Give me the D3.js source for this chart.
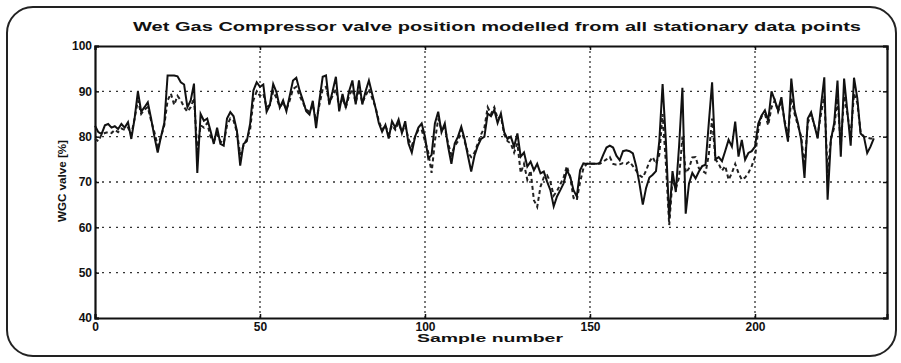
<!DOCTYPE html>
<html>
<head>
<meta charset="utf-8">
<script src="https://cdn.jsdelivr.net/npm/d3@7"></script>
<style>
  body { margin: 0; background: #fff; }
  text { font-family: "Liberation Sans", Arial, sans-serif; font-weight: bold; fill: #111; }
</style>
</head>
<body>
<div id="chart"></div>
<script>
// chart texts
var titleText = "Wet Gas Compressor valve position modelled from all stationary data points";
var xLabel = "Sample number";
var yLabel = "WGC valve [%]";

// tick values
var xTicks = [0, 50, 100, 150, 200];
var yTicks = [40, 50, 60, 70, 80, 90, 100];

// measured valve position (solid line), one value per sample
var measured = [
  82.4, 81, 80.6, 82.5, 82.8, 82, 82.3, 81.7, 82.8, 82,
  83.2, 79.5, 84, 90, 85.5, 86.5, 87.6, 84, 80, 76.5,
  80, 83, 93.5, 93.5, 93.5, 93.3, 92, 91.5, 86.5, 88,
  91.7, 72, 85, 83.5, 84, 81.3, 78.4, 82, 78.4, 78,
  84, 85.4, 84.5, 81.3, 73.6, 78.4, 79, 82.8, 90.2, 92,
  91, 91.5, 85.5, 87, 91.6, 89.8, 86.4, 88, 85.6, 89,
  92.4, 93, 90.2, 88, 85.6, 84.9, 87.9, 81.9, 88, 93.2,
  93.5, 87.1, 90, 93.2, 85.6, 89.4, 86.4, 90, 92.4, 87.1,
  92.4, 87.1, 90, 92.4, 89.4, 86.4, 83, 81.1, 82.6, 79.6,
  83.4, 82, 83.8, 80.8, 83.4, 78.5, 76.5, 80, 82, 82.9,
  80, 75.2, 76, 82.9, 85.5, 81, 82.9, 77.8, 74, 78.5,
  80, 82.2, 79.5, 75.8, 72.3, 75.8, 78, 79.5, 80, 85.1,
  84.5, 85.9, 83, 85.1, 81, 79.5, 80, 77.8, 80.7, 75.6,
  76.5, 73.4, 74.5, 72.6, 74, 71.9, 72.3, 70.1, 68.2, 64.6,
  66.8, 68.2, 69.7, 72.6, 71.2, 68.2, 66.8, 72.6, 74.1, 74,
  74, 74, 74, 74.2, 76, 77.6, 78, 77.6, 75.8, 74.8,
  76.8, 77, 76.8, 76.3, 73.5, 69.6, 65, 68.7, 71, 71.6,
  72.4, 79, 91.6, 79, 62, 72.4, 67.8, 78, 90.8, 63,
  69.7, 72, 70.8, 72.3, 73.5, 73.8, 83, 92, 75, 75.5,
  74.6, 76.9, 79.3, 77.8, 83.3, 75.6, 79.3, 74.9, 76.4, 76.8,
  77.8, 82.9, 84.7, 85.8, 83.5, 90, 88, 85.8, 88.7, 83,
  78.9, 92.8, 85.8, 83, 79.3, 70.9, 84, 85.4, 82.5, 79.6,
  86.8, 93.1, 66.1, 79.3, 83, 92.4, 75.6, 92.8, 85.5, 78,
  93, 88.5, 80.7, 80, 76.4, 77.8, 79.6
];

// modelled valve position (dashed line)
var modelled = [
  79.5, 79, 80.5, 80.8, 81, 80.8, 81.5, 81, 81.8, 81.5,
  82, 80.5, 84, 88, 85, 86, 86.5, 83.5, 81, 78,
  80, 82.5, 88, 89.5, 87, 89, 88, 86.5, 85.5, 86.5,
  88.5, 77, 82.5, 82, 83, 80, 79, 80.5, 79, 78.5,
  82.5, 84, 83.5, 81, 76, 78, 79.5, 81.5, 88, 90,
  89, 89.5, 86.5, 87, 90, 88.5, 86.5, 87.5, 86, 88,
  90.5, 91, 89, 87.5, 86, 85.5, 87, 83.5, 87, 90.5,
  91, 87.5, 89, 90.5, 86.5, 88.5, 86.5, 89, 90.5, 87.5,
  90.5, 87.5, 89, 90.5, 88.5, 86.5, 83.5, 81.5, 82.5, 80.5,
  82.5, 81.5, 83, 81, 82.5, 79.5, 78, 80, 81.5, 81.5,
  79, 76.5, 72, 79, 84, 81.5, 82, 78.5, 76, 78,
  79, 81.5, 79, 76.5, 75.5, 76.5, 78.5, 80.5, 82, 86.5,
  85, 86.5, 84, 84.5, 80.5, 79, 78.5, 76.5, 78.5, 72,
  74, 70.5, 72.5, 66, 64.5, 69, 71, 71.5, 70, 67,
  68, 69.5, 71, 73.5, 71, 66.5, 66, 70, 73, 74,
  74, 74, 74, 74, 74.5, 75, 75.5, 74, 73.8, 73.9,
  74.2, 74, 74.5, 73.5, 72.5, 71.5, 71, 72.5, 74.5, 75.5,
  74, 76, 85, 74, 60.5, 70.5, 68.5, 71, 80, 72,
  73, 75.4, 75.5, 73, 72.5, 72, 76, 84, 75, 74,
  72.5, 73.5, 70.5, 72, 74, 72, 70.5, 71, 72, 73.5,
  75.5, 81.5, 84.5, 85, 82.5, 86.5, 88, 85.5, 87.5, 83.5,
  80, 88.5, 85, 82.5, 80, 73.5, 83, 85, 82.5, 80.5,
  85, 89, 72, 79.5, 82, 88.5, 78, 89, 85, 80,
  89.5, 87.5, 81, 80, 79.8, 79.6, 79.6
];

var W = 901, H = 363;
var margin = {top: 46, right: 14, bottom: 45, left: 95},
    width = W - margin.left - margin.right,
    height = H - margin.top - margin.bottom;

var svg = d3.select("#chart")
  .append("svg")
    .attr("width", W)
    .attr("height", H);

// rounded frame round the whole figure
svg.append("rect")
  .attr("x", 7).attr("y", 7)
  .attr("width", W - 12).attr("height", H - 14)
  .attr("rx", 26).attr("ry", 26)
  .style("fill", "none")
  .style("stroke", "#222")
  .style("stroke-width", 2);

var g = svg.append("g")
  .attr("transform", "translate(" + margin.left + "," + margin.top + ")");

var x = d3.scaleLinear().domain([0, 240]).range([0, width]);
var y = d3.scaleLinear().domain([40, 100]).range([height, 0]);

// dotted grid
g.append("g")
  .selectAll("line")
  .data(yTicks.filter(function (d) { return d > 40 && d < 100; }))
  .enter().append("line")
    .attr("x1", 0).attr("x2", width)
    .attr("y1", function (d) { return y(d); })
    .attr("y2", function (d) { return y(d); })
    .style("stroke", "#333").style("stroke-width", 1.3)
    .style("stroke-dasharray", "2,5");

g.append("g")
  .selectAll("line")
  .data(xTicks.filter(function (d) { return d > 0; }))
  .enter().append("line")
    .attr("y1", 0).attr("y2", height)
    .attr("x1", function (d) { return x(d); })
    .attr("x2", function (d) { return x(d); })
    .style("stroke", "#333").style("stroke-width", 1.3)
    .style("stroke-dasharray", "2,3");

// axes
var xAxis = g.append("g")
  .attr("transform", "translate(0," + height + ")")
  .call(d3.axisBottom(x).tickValues(xTicks).tickSize(-4).tickPadding(4));
var yAxis = g.append("g")
  .call(d3.axisLeft(y).tickValues(yTicks).tickSize(-4).tickPadding(3));
// mirrored ticks on top and right edges
var xTop = g.append("g")
  .call(d3.axisTop(x).tickValues(xTicks).tickSize(-4).tickFormat(""));
var yRight = g.append("g")
  .attr("transform", "translate(" + width + ",0)")
  .call(d3.axisRight(y).tickValues(yTicks).tickSize(-4).tickFormat(""));

[xAxis, yAxis, xTop, yRight].forEach(function (a) {
  a.select(".domain").style("stroke", "#111").style("stroke-width", 2.2);
  a.selectAll(".tick line").style("stroke", "#111").style("stroke-width", 1.5);
  a.selectAll(".tick text")
    .style("font-family", "'Liberation Sans', Arial, sans-serif")
    .style("font-weight", "bold")
    .style("font-size", "12px")
    .style("fill", "#111");
});

// lines
var line = d3.line()
  .x(function (d, i) { return x(i); })
  .y(function (d) { return y(d); });

g.append("path")
  .datum(modelled)
  .attr("d", line)
  .style("fill", "none")
  .style("stroke", "#222")
  .style("stroke-width", 2)
  .style("stroke-dasharray", "4,3");

g.append("path")
  .datum(measured)
  .attr("d", line)
  .style("fill", "none")
  .style("stroke", "#111")
  .style("stroke-width", 2);

// texts
svg.append("text")
  .attr("x", 497).attr("y", 31)
  .attr("text-anchor", "middle")
  .attr("textLength", 728)
  .attr("lengthAdjust", "spacingAndGlyphs")
  .style("font-size", "12px")
  .text(titleText);

svg.append("text")
  .attr("x", 490).attr("y", 342)
  .attr("text-anchor", "middle")
  .attr("textLength", 146)
  .attr("lengthAdjust", "spacingAndGlyphs")
  .style("font-size", "11px")
  .text(xLabel);

svg.append("text")
  .attr("transform", "translate(66,181) rotate(-90)")
  .attr("text-anchor", "middle")
  .attr("textLength", 82)
  .attr("lengthAdjust", "spacingAndGlyphs")
  .style("font-size", "10px")
  .text(yLabel);
</script>
</body>
</html>
